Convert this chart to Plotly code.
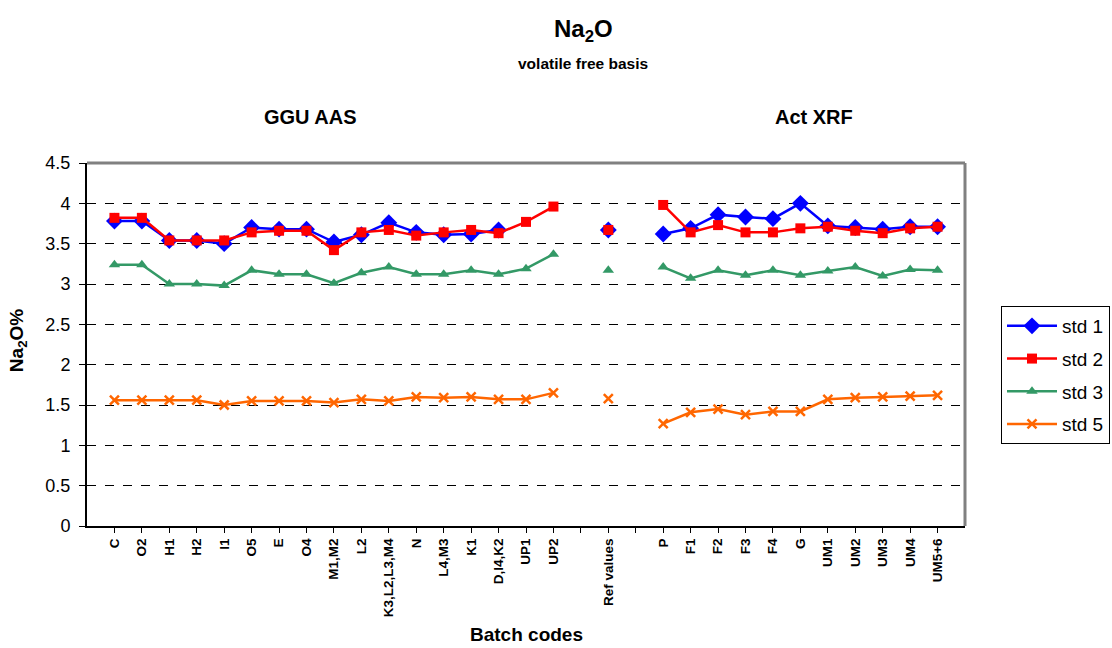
import plotly.graph_objects as go

categories = ["C", "O2", "H1", "H2", "I1", "O5", "E", "O4", "M1,M2", "L2",
              "K3,L2,L3,M4", "N", "L4,M3", "K1", "D,I4,K2", "UP1", "UP2", "",
              "Ref values", "", "P", "F1", "F2", "F3", "F4", "G", "UM1", "UM2",
              "UM3", "UM4", "UM5+6"]

std1 = [3.78, 3.78, 3.54, 3.54, 3.50, 3.70, 3.68, 3.68, 3.52, 3.61, 3.76, 3.64,
        3.61, 3.62, 3.67, None, None, None, 3.67, None, 3.62, 3.69, 3.86, 3.83,
        3.81, 4.00, 3.72, 3.70, 3.68, 3.71, 3.71]
std2 = [3.82, 3.82, 3.54, 3.54, 3.54, 3.64, 3.66, 3.66, 3.42, 3.64, 3.67, 3.60,
        3.64, 3.67, 3.63, 3.77, 3.96, None, 3.67, None, 3.98, 3.64, 3.73, 3.64,
        3.64, 3.69, 3.71, 3.66, 3.63, 3.69, 3.71]
std3 = [3.24, 3.24, 3.00, 3.00, 2.98, 3.17, 3.12, 3.12, 3.01, 3.14, 3.21, 3.12,
        3.12, 3.17, 3.12, 3.19, 3.37, None, 3.17, None, 3.21, 3.07, 3.17, 3.11,
        3.17, 3.11, 3.16, 3.21, 3.10, 3.18, 3.17]
std5 = [1.56, 1.56, 1.56, 1.56, 1.50, 1.55, 1.55, 1.55, 1.53, 1.57, 1.55, 1.60,
        1.59, 1.60, 1.57, 1.57, 1.65, None, 1.58, None, 1.27, 1.41, 1.45, 1.38,
        1.42, 1.42, 1.57, 1.59, 1.60, 1.61, 1.62]

series = [
    ("std 1", std1, "#0000FF", "diamond", 13),
    ("std 2", std2, "#FF0000", "square", 10),
    ("std 3", std3, "#339966", "triangle-up", 10),
    ("std 5", std5, "#FF6600", "x-thin", 9),
]

FONT = "Liberation Sans, Arial, sans-serif"
x = list(range(len(categories)))

fig = go.Figure()
for name, vals, color, sym, size in series:
    marker = dict(symbol=sym, size=size, color=color)
    if sym == "x-thin":
        marker["line"] = dict(color=color, width=2.5)
    fig.add_trace(go.Scatter(
        x=x, y=vals, name=name, mode="lines+markers", legendgroup=name,
        line=dict(color=color, width=2.5),
        marker=marker, connectgaps=False,
    ))

fig.update_layout(
    width=1112, height=648,
    margin=dict(l=87, r=147, t=163, b=122, autoexpand=False),
    paper_bgcolor="white", plot_bgcolor="white",
    font=dict(family=FONT, color="black"),
    showlegend=True,
    legend=dict(x=1.041, y=0.606, xanchor="left", yanchor="top",
                font=dict(size=19, family=FONT), bordercolor="black",
                borderwidth=1, bgcolor="white", tracegroupgap=5,
                itemwidth=50),
    xaxis=dict(range=[-1, len(categories)], tickmode="array",
               tickvals=x, ticktext=categories, tickangle=-90,
               tickfont=dict(size=13.5, family=FONT, color="black",
                             weight="bold"),
               ticks="outside", ticklen=5, tickcolor="black",
               showline=True, linecolor="black", linewidth=2,
               showgrid=False, zeroline=False),
    yaxis=dict(range=[0, 4.5], dtick=0.5, tick0=0,
               tickfont=dict(size=18, family=FONT, color="black"),
               ticks="outside", ticklen=6, tickcolor="black",
               ticklabelstandoff=5,
               showline=True, linecolor="black", linewidth=2,
               showgrid=True, gridcolor="black", griddash="dash",
               gridwidth=1, zeroline=False),
    shapes=[
        dict(type="line", xref="paper", yref="paper", x0=0, x1=1, y0=1, y1=1,
             line=dict(color="#808080", width=3)),
        dict(type="line", xref="paper", yref="paper", x0=1, x1=1, y0=0, y1=1,
             line=dict(color="#808080", width=3)),
    ],
    annotations=[
        dict(text="<b>Na<sub>2</sub>O</b>", xref="paper", yref="paper",
             x=0.565, y=1.366, showarrow=False, font=dict(size=24, family=FONT),
             xanchor="center", yanchor="middle"),
        dict(text="<b>volatile free basis</b>", xref="paper", yref="paper",
             x=0.565, y=1.275, showarrow=False, font=dict(size=15.5, family=FONT),
             xanchor="center", yanchor="middle"),
        dict(text="<b>GGU AAS</b>", xref="paper", yref="paper",
             x=0.254, y=1.127, showarrow=False, font=dict(size=20, family=FONT),
             xanchor="center", yanchor="middle"),
        dict(text="<b>Act XRF</b>", xref="paper", yref="paper",
             x=0.828, y=1.127, showarrow=False, font=dict(size=20, family=FONT),
             xanchor="center", yanchor="middle"),
        dict(text="<b>Batch codes</b>", xref="paper", yref="paper",
             x=0.501, y=-0.300, showarrow=False, font=dict(size=19, family=FONT),
             xanchor="center", yanchor="middle"),
        dict(text="<b>Na<sub>2</sub>O%</b>", xref="paper", yref="paper",
             x=-0.0786, y=0.512, showarrow=False, textangle=-90,
             font=dict(size=19, family=FONT), xanchor="center", yanchor="middle"),
    ],
)

fig.write_html("out.html", config={"displayModeBar": False},
               post_script="document.body.style.margin='0';")
